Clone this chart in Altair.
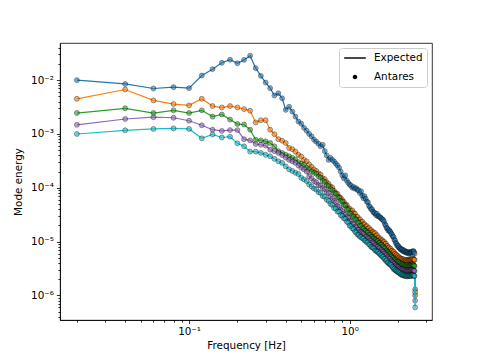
import altair as alt
import pandas as pd

# frequency grid (Hz): 0.02 Hz steps
freq = [round(0.02 * k, 2) for k in range(1, 129)]

blue = [
    1.0e-2, 8.5e-3, 7.0e-3, 7.4e-3, 7.1e-3, 1.22e-2, 1.6e-2, 2.1e-2, 2.4e-2, 2.06e-2,
    2.38e-2, 2.85e-2, 1.67e-2, 1.2e-2, 9.0e-3, 7.1e-3, 5.2e-3, 5.7e-3, 4.6e-3, 2.8e-3,
    3.2e-3, 2.6e-3, 2.1e-3, 1.7e-3, 1.55e-3, 1.3e-3, 1.15e-3, 1.0e-3, 9.0e-4, 7.8e-4,
    7.2e-4, 6.6e-4, 5.9e-4, 6.3e-4, 4.8e-4, 4.0e-4, 3.3e-4, 3.6e-4, 3.3e-4, 3.1e-4,
    2.8e-4, 2.6e-4, 2.35e-4, 2.0e-4, 1.7e-4, 1.5e-4, 1.7e-4, 1.37e-4, 1.24e-4, 1.15e-4,
    1.1e-4, 1.0e-4, 1.04e-4, 9.6e-5, 9.8e-5, 9.1e-5, 9.0e-5, 8.0e-5, 8.6e-5, 7.1e-5,
    6.4e-5, 7.0e-5, 6.2e-5, 5.5e-5, 5.4e-5, 4.6e-5, 4.4e-5, 4.0e-5, 4.0e-5, 3.6e-5,
    3.4e-5, 3.4e-5, 3.1e-5, 3.3e-5, 2.95e-5, 3.0e-5, 2.85e-5, 2.8e-5, 2.65e-5, 2.6e-5,
    2.5e-5, 2.35e-5, 2.1e-5, 2.0e-5, 1.8e-5, 1.75e-5, 1.6e-5, 1.65e-5, 1.55e-5, 1.5e-5,
    1.4e-5, 1.33e-5, 1.24e-5, 1.22e-5, 1.08e-5, 1.05e-5, 9.5e-6, 9.1e-6, 8.4e-6, 8.5e-6,
    7.8e-6, 7.9e-6, 7.3e-6, 7.4e-6, 7.0e-6, 7.2e-6, 6.7e-6, 7.0e-6, 6.5e-6, 6.8e-6,
    6.4e-6, 6.5e-6, 6.2e-6, 6.4e-6, 6.1e-6, 6.4e-6, 6.0e-6, 6.3e-6, 6.1e-6, 6.4e-6,
    6.2e-6, 6.5e-6, 6.2e-6, 6.6e-6, 6.7e-6, 6.4e-6, 6.0e-6, 1.3e-6,
]

orange = [
    4.5e-3, 6.7e-3, 4.2e-3, 3.6e-3, 3.4e-3, 4.5e-3, 3.3e-3, 3.1e-3, 3.3e-3, 3.1e-3,
    2.9e-3, 2.7e-3, 1.64e-3, 1.8e-3, 1.8e-3, 1.2e-3, 9.9e-4, 8.0e-4, 7.5e-4, 6.8e-4,
    5.5e-4, 5.2e-4, 4.7e-4, 4.1e-4, 3.8e-4, 3.3e-4, 3.1e-4, 2.7e-4, 2.45e-4, 2.2e-4,
    2.05e-4, 1.85e-4, 1.75e-4, 1.5e-4, 1.45e-4, 1.28e-4, 1.18e-4, 1.05e-4, 1.02e-4, 8.8e-5,
    8.0e-5, 7.7e-5, 6.8e-5, 6.5e-5, 5.9e-5, 5.5e-5, 4.9e-5, 4.8e-5, 4.2e-5, 4.1e-5,
    3.7e-5, 3.8e-5, 3.4e-5, 3.3e-5, 2.9e-5, 2.9e-5, 2.55e-5, 2.6e-5, 2.3e-5, 2.35e-5,
    2.1e-5, 2.1e-5, 1.9e-5, 1.95e-5, 1.75e-5, 1.8e-5, 1.6e-5, 1.65e-5, 1.48e-5, 1.52e-5,
    1.4e-5, 1.45e-5, 1.28e-5, 1.32e-5, 1.17e-5, 1.2e-5, 1.08e-5, 1.12e-5, 1.02e-5, 1.06e-5,
    9.7e-6, 9.9e-6, 9.0e-6, 9.2e-6, 8.3e-6, 8.3e-6, 7.6e-6, 7.8e-6, 7.0e-6, 7.4e-6,
    6.7e-6, 6.8e-6, 6.2e-6, 6.5e-6, 5.9e-6, 6.0e-6, 5.5e-6, 5.7e-6, 5.2e-6, 5.4e-6,
    5.0e-6, 5.1e-6, 4.8e-6, 4.9e-6, 4.6e-6, 4.8e-6, 4.5e-6, 4.7e-6, 4.4e-6, 4.6e-6,
    4.4e-6, 4.6e-6, 4.4e-6, 4.5e-6, 4.3e-6, 4.6e-6, 4.5e-6, 4.7e-6, 4.5e-6, 4.7e-6,
    4.6e-6, 4.8e-6, 4.6e-6, 4.8e-6, 4.7e-6, 4.6e-6, 4.6e-6, 1.15e-6,
]

green = [
    2.45e-3, 3.0e-3, 2.45e-3, 2.75e-3, 2.45e-3, 2.75e-3, 2.1e-3, 2.3e-3, 1.85e-3, 1.53e-3,
    1.5e-3, 1.2e-3, 7.8e-4, 7.6e-4, 7.3e-4, 6.8e-4, 5.9e-4, 4.8e-4, 4.45e-4, 4.1e-4,
    3.85e-4, 3.6e-4, 3.35e-4, 3.0e-4, 2.8e-4, 2.7e-4, 2.35e-4, 2.2e-4, 2.0e-4, 1.9e-4,
    1.82e-4, 1.62e-4, 1.55e-4, 1.35e-4, 1.28e-4, 1.12e-4, 1.08e-4, 9.5e-5, 9.1e-5, 8.0e-5,
    7.7e-5, 6.7e-5, 6.5e-5, 5.7e-5, 5.5e-5, 4.8e-5, 4.7e-5, 4.0e-5, 3.9e-5, 3.4e-5,
    3.3e-5, 3.0e-5, 2.9e-5, 2.65e-5, 2.55e-5, 2.3e-5, 2.25e-5, 2.0e-5, 1.95e-5, 1.78e-5,
    1.73e-5, 1.6e-5, 1.58e-5, 1.47e-5, 1.48e-5, 1.35e-5, 1.33e-5, 1.23e-5, 1.22e-5, 1.16e-5,
    1.14e-5, 1.08e-5, 1.07e-5, 1.01e-5, 1.03e-5, 9.5e-6, 9.4e-6, 8.8e-6, 8.8e-6, 8.2e-6,
    8.1e-6, 7.6e-6, 7.5e-6, 6.9e-6, 6.8e-6, 6.4e-6, 6.3e-6, 5.9e-6, 5.8e-6, 5.4e-6,
    5.3e-6, 4.9e-6, 5.0e-6, 4.6e-6, 4.7e-6, 4.4e-6, 4.5e-6, 4.2e-6, 4.3e-6, 4.1e-6,
    4.2e-6, 3.9e-6, 4.0e-6, 3.7e-6, 3.9e-6, 3.7e-6, 3.8e-6, 3.6e-6, 3.7e-6, 3.5e-6,
    3.6e-6, 3.5e-6, 3.7e-6, 3.4e-6, 3.6e-6, 3.5e-6, 3.7e-6, 3.5e-6, 3.6e-6, 3.6e-6,
    3.5e-6, 3.7e-6, 3.6e-6, 3.7e-6, 3.6e-6, 3.6e-6, 3.5e-6, 1.0e-6,
]

purple = [
    1.48e-3, 1.9e-3, 2.05e-3, 2.0e-3, 1.76e-3, 1.45e-3, 1.2e-3, 1.14e-3, 1.18e-3, 1.18e-3,
    8.0e-4, 7.6e-4, 6.5e-4, 6.3e-4, 6.1e-4, 5.1e-4, 4.8e-4, 4.45e-4, 4.05e-4, 3.65e-4,
    3.3e-4, 3.1e-4, 2.9e-4, 2.6e-4, 2.35e-4, 2.2e-4, 2.0e-4, 1.64e-4, 1.5e-4, 1.33e-4,
    1.27e-4, 1.13e-4, 1.1e-4, 9.9e-5, 9.4e-5, 8.3e-5, 7.9e-5, 6.9e-5, 6.3e-5, 5.7e-5,
    5.3e-5, 4.6e-5, 4.4e-5, 3.9e-5, 3.7e-5, 3.3e-5, 3.15e-5, 2.85e-5, 2.75e-5, 2.45e-5,
    2.35e-5, 2.15e-5, 2.1e-5, 1.88e-5, 1.82e-5, 1.67e-5, 1.65e-5, 1.52e-5, 1.5e-5, 1.43e-5,
    1.4e-5, 1.32e-5, 1.24e-5, 1.23e-5, 1.16e-5, 1.14e-5, 1.06e-5, 1.04e-5, 9.7e-6, 9.7e-6,
    9.2e-6, 8.6e-6, 8.5e-6, 8.0e-6, 8.1e-6, 7.6e-6, 7.5e-6, 6.9e-6, 7.0e-6, 6.6e-6,
    6.5e-6, 6.1e-6, 6.0e-6, 5.6e-6, 5.6e-6, 5.2e-6, 5.1e-6, 4.8e-6, 4.8e-6, 4.5e-6,
    4.4e-6, 4.2e-6, 4.1e-6, 3.85e-6, 3.85e-6, 3.6e-6, 3.65e-6, 3.45e-6, 3.45e-6, 3.3e-6,
    3.35e-6, 3.15e-6, 3.2e-6, 3.05e-6, 3.1e-6, 3.0e-6, 3.05e-6, 2.95e-6, 3.0e-6, 2.85e-6,
    2.95e-6, 2.85e-6, 2.95e-6, 2.85e-6, 2.9e-6, 2.85e-6, 2.95e-6, 2.9e-6, 2.9e-6, 2.95e-6,
    2.9e-6, 3.0e-6, 2.9e-6, 2.95e-6, 2.9e-6, 2.85e-6, 2.85e-6, 8.0e-7,
]

cyan = [
    1.0e-3, 1.17e-3, 1.24e-3, 1.27e-3, 1.24e-3, 8.3e-4, 9.8e-4, 8.6e-4, 8.9e-4, 6.7e-4,
    5.9e-4, 4.7e-4, 4.7e-4, 4.45e-4, 4.1e-4, 3.85e-4, 3.45e-4, 3.1e-4, 2.9e-4, 2.5e-4,
    2.2e-4, 2.05e-4, 1.9e-4, 1.8e-4, 1.53e-4, 1.43e-4, 1.33e-4, 1.15e-4, 1.06e-4, 9.7e-5,
    9.3e-5, 8.3e-5, 8.0e-5, 7.0e-5, 6.8e-5, 6.0e-5, 5.7e-5, 5.0e-5, 4.8e-5, 4.2e-5,
    4.1e-5, 3.6e-5, 3.6e-5, 3.1e-5, 3.0e-5, 2.7e-5, 2.65e-5, 2.35e-5, 2.25e-5, 1.98e-5,
    1.93e-5, 1.76e-5, 1.7e-5, 1.53e-5, 1.48e-5, 1.35e-5, 1.33e-5, 1.23e-5, 1.22e-5, 1.15e-5,
    1.14e-5, 1.05e-5, 1.03e-5, 9.7e-6, 9.7e-6, 8.9e-6, 8.7e-6, 8.0e-6, 7.9e-6, 7.6e-6,
    7.5e-6, 6.9e-6, 6.8e-6, 6.5e-6, 6.5e-6, 6.1e-6, 6.0e-6, 5.6e-6, 5.6e-6, 5.2e-6,
    5.2e-6, 4.8e-6, 4.8e-6, 4.4e-6, 4.5e-6, 4.1e-6, 4.1e-6, 3.85e-6, 3.85e-6, 3.7e-6,
    3.65e-6, 3.4e-6, 3.35e-6, 3.1e-6, 3.15e-6, 2.95e-6, 2.95e-6, 2.8e-6, 2.85e-6, 2.7e-6,
    2.75e-6, 2.6e-6, 2.6e-6, 2.45e-6, 2.5e-6, 2.4e-6, 2.45e-6, 2.35e-6, 2.4e-6, 2.3e-6,
    2.35e-6, 2.3e-6, 2.35e-6, 2.25e-6, 2.35e-6, 2.3e-6, 2.35e-6, 2.3e-6, 2.3e-6, 2.35e-6,
    2.3e-6, 2.4e-6, 2.35e-6, 2.4e-6, 2.35e-6, 2.3e-6, 2.3e-6, 6.0e-7,
]

series_names = ["mode 1", "mode 2", "mode 3", "mode 4", "mode 5"]
series_values = [blue, orange, green, purple, cyan]
series_colors = ["#1f77b4", "#ff7f0e", "#2ca02c", "#9467bd", "#17becf"]

legend_kinds = ["Expected", "Antares"]

x_major = [0.1, 1]
x_minor = [0.02, 0.03, 0.04, 0.05, 0.06, 0.07, 0.08, 0.09,
           0.2, 0.3, 0.4, 0.5, 0.6, 0.7, 0.8, 0.9, 2, 3]
y_major = [1e-6, 1e-5, 1e-4, 1e-3, 1e-2]
y_minor = [m * d for d in [1e-7, 1e-6, 1e-5, 1e-4, 1e-3, 1e-2]
           for m in range(2, 10) if 3.5e-7 <= m * d <= 0.049]

FONT = "DejaVu Sans"
FS = 10.4

xscale = alt.Scale(type="log", domain=[0.0157, 3.26], nice=False)
yscale = alt.Scale(type="log", domain=[3.5e-7, 0.049], nice=False)

xaxis = alt.Axis(
    values=x_major + x_minor,
    labelExpr="datum.value == 0.1 ? '10⁻¹' : datum.value == 1 ? '10⁰' : ''",
    tickSize={"condition": {"test": "datum.value == 0.1 || datum.value == 1",
                            "value": 3.6}, "value": 2.1},
    tickWidth=0.8, tickColor="black", domainColor="black", domainWidth=0.8,
    grid=False, labelFont=FONT, labelFontSize=FS, labelColor="black",
    labelPadding=3, labelFlush=False, labelOverlap=False,
    titleFont=FONT, titleFontSize=FS, titleFontWeight="normal",
    titleColor="black", titlePadding=3,
)
ylabel_expr = ("datum.value == 1e-2 ? '10⁻²' : datum.value == 1e-3 ? '10⁻³' : "
               "datum.value == 1e-4 ? '10⁻⁴' : datum.value == 1e-5 ? '10⁻⁵' : "
               "datum.value == 1e-6 ? '10⁻⁶' : ''")
yaxis = alt.Axis(
    values=y_major + y_minor,
    labelExpr=ylabel_expr,
    tickSize={"condition": {"test": "indexof([1e-6,1e-5,1e-4,1e-3,1e-2], datum.value) >= 0",
                            "value": 3.6}, "value": 2.1},
    tickWidth=0.8, tickColor="black", domainColor="black", domainWidth=0.8,
    grid=False, labelFont=FONT, labelFontSize=FS, labelColor="black",
    labelPadding=3, labelFlush=False, labelOverlap=False,
    titleFont=FONT, titleFontSize=FS, titleFontWeight="normal",
    titleColor="black", titlePadding=7,
)

layers = []
for name, vals, col in zip(series_names, series_values, series_colors):
    d = pd.DataFrame({"freq": freq, "energy": vals, "series": name})
    enc = dict(
        x=alt.X("freq:Q", scale=xscale, axis=xaxis, title="Frequency [Hz]"),
        y=alt.Y("energy:Q", scale=yscale, axis=yaxis, title="Mode energy"),
    )
    layers.append(alt.Chart(d).mark_line(color=col, strokeWidth=1.2).encode(**enc))
    layers.append(alt.Chart(d).mark_circle(size=24, color=col, opacity=0.6,
                                           stroke="black", strokeWidth=0.7).encode(**enc))

# legend glyphs as unit-space paths (scaled by sqrt(size)/2 = 6 px)
line_path = "M-1.8,-0.12L1.8,-0.12L1.8,0.12L-1.8,0.12Z"
dot_path = "M-0.38,0A0.38,0.38,0,1,1,0.38,0A0.38,0.38,0,1,1,-0.38,0Z"
leg_df = pd.DataFrame({"kind": legend_kinds, "freq": [freq[0]] * 2,
                       "energy": [blue[0]] * 2})
legend_layer = alt.Chart(leg_df).mark_point(
    filled=True, opacity=0, size=144, fill="black"
).encode(
    x=alt.X("freq:Q", scale=xscale, axis=xaxis, title="Frequency [Hz]"),
    y=alt.Y("energy:Q", scale=yscale, axis=yaxis, title="Mode energy"),
    shape=alt.Shape(
        "kind:N",
        scale=alt.Scale(domain=legend_kinds, range=[line_path, dot_path]),
        legend=alt.Legend(
            title=None, orient="top-right", offset=5, padding=4,
            symbolSize=144, symbolOpacity=1, symbolStrokeWidth=0,
            symbolFillColor="black", symbolOffset=6,
            labelFont=FONT, labelFontSize=FS, labelColor="black",
            labelOffset=13, rowPadding=7,
            fillColor="white", strokeColor="#cccccc", cornerRadius=3,
        ),
    ),
)
layers.append(legend_layer)

chart = alt.layer(*layers).properties(
    width=372, height=277, autosize="none",
    padding={"left": 52, "top": 35, "right": 40, "bottom": 32},
    background="white",
).configure_view(stroke="black", strokeWidth=0.8)

chart.save("out.html", embed_options={"renderer": "svg", "actions": False})
